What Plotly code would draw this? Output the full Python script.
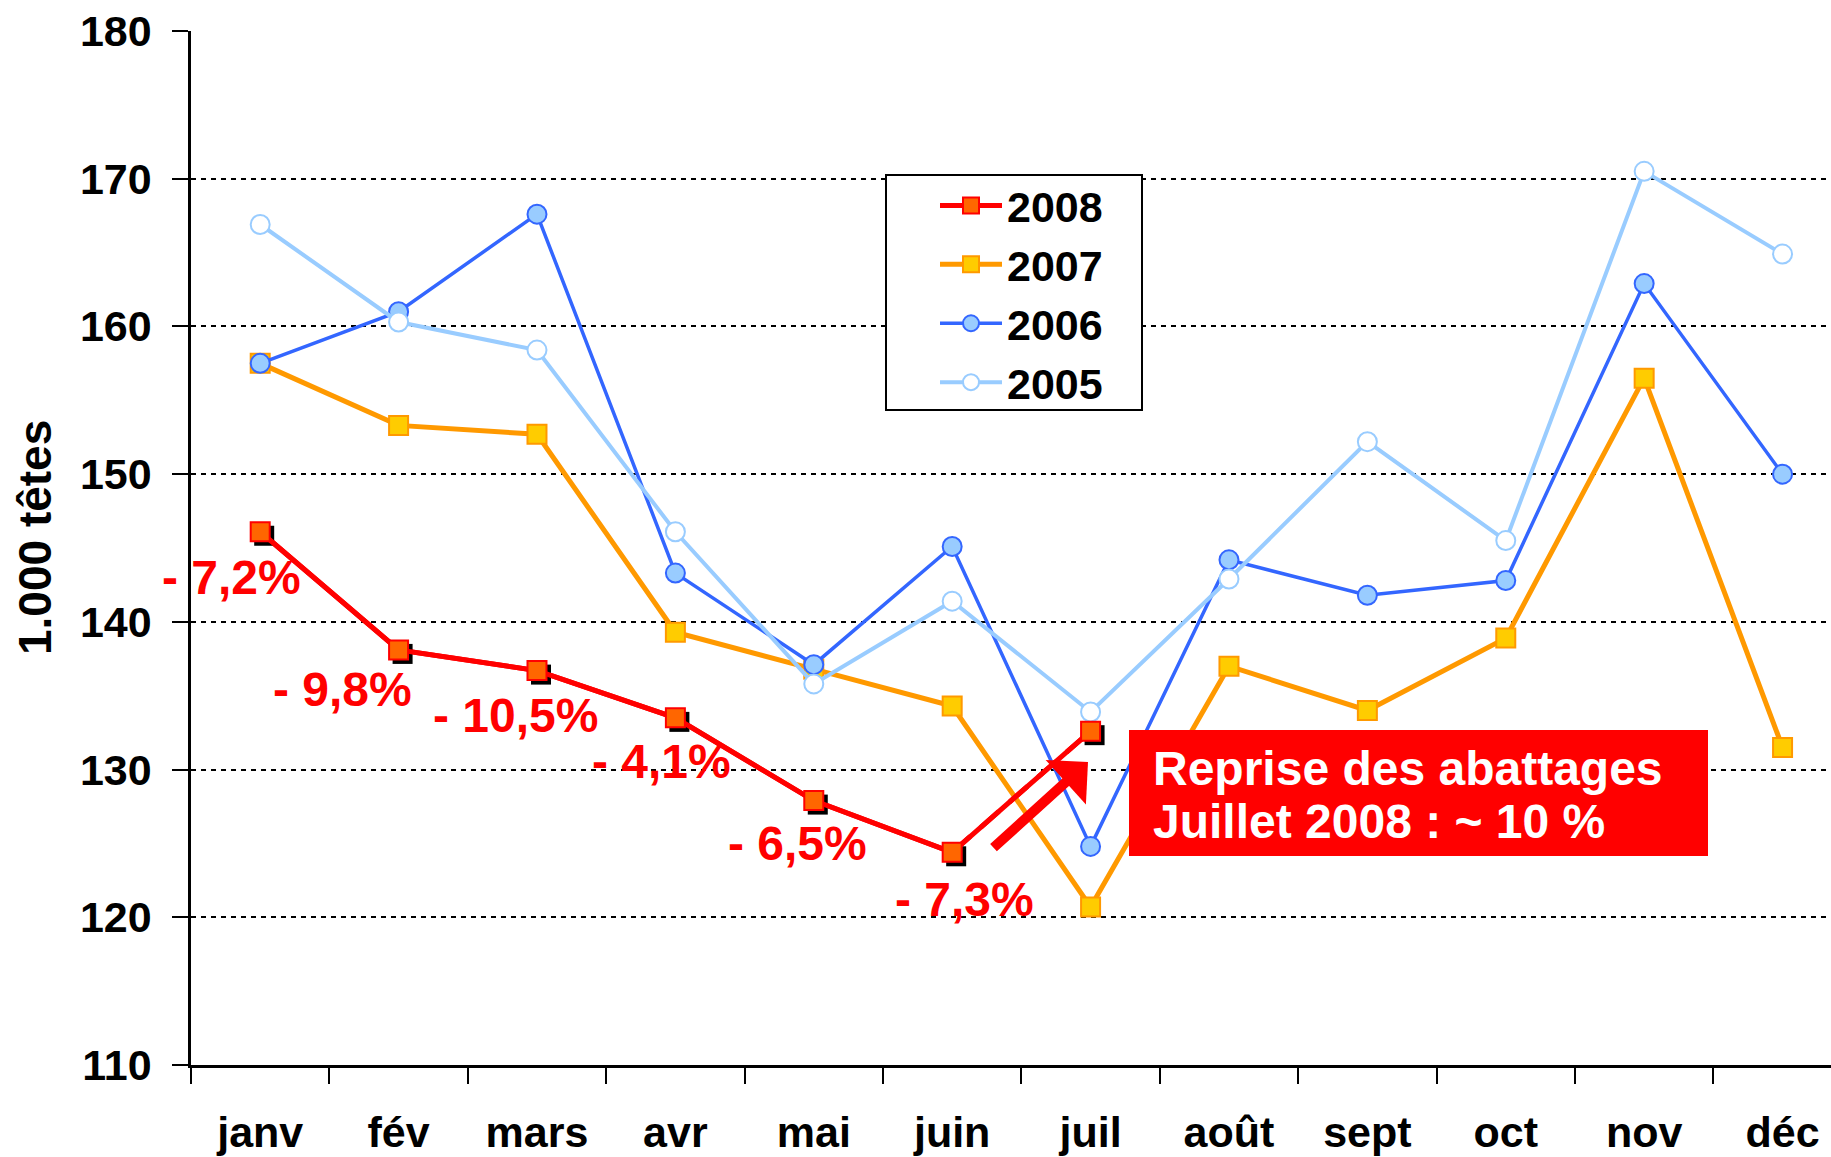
import plotly.graph_objects as go

# ---------------- data ----------------
months = ["janv", "fév", "mars", "avr", "mai", "juin", "juil", "août", "sept", "oct", "nov", "déc"]
v2008 = [146.1, 138.1, 136.7, 133.5, 127.9, 124.4, 132.6]
v2007 = [157.5, 153.3, 152.7, 139.3, 136.8, 134.3, 120.7, 137.0, 134.0, 138.9, 156.5, 131.5]
v2006 = [157.5, 161.0, 167.6, 143.3, 137.1, 145.1, 124.8, 144.2, 141.8, 142.8, 162.9, 150.0]
v2005 = [166.9, 160.3, 158.4, 146.1, 135.8, 141.4, 133.9, 142.9, 152.2, 145.5, 170.5, 164.9]
pct_labels = ["- 7,2%", "- 9,8%", "- 10,5%", "- 4,1%", "- 6,5%", "- 7,3%"]
box_lines = ["Reprise des abattages", "Juillet 2008 : ~ 10 %"]
y_title = "1.000 têtes"

# ---------------- layout constants ----------------
W, H = 1831, 1157
ML, MT, MB, MR = 191, 31, 92, 0
YMIN, YMAX = 110, 180
XMIN, XMAX = -0.5, 11.35
PW, PH = W - ML - MR, H - MT - MB
px_per_cat = PW / (XMAX - XMIN)
px_per_unit = PH / (YMAX - YMIN)

FONT = "Liberation Sans, Arial, sans-serif"
x_all = list(range(len(months)))

fig = go.Figure()

# 2007
fig.add_trace(go.Scatter(
    x=x_all, y=v2007, name="2007", mode="lines+markers", legendrank=2,
    line=dict(color="#FF9900", width=5),
    marker=dict(symbol="square", size=19, color="#FFCC00", line=dict(color="#FF9900", width=2)),
))
# 2006
fig.add_trace(go.Scatter(
    x=x_all, y=v2006, name="2006", mode="lines+markers", legendrank=3,
    line=dict(color="#3366FF", width=3.5),
    marker=dict(symbol="circle", size=19, color="#99CCFF", line=dict(color="#3366FF", width=2)),
))
# 2005
fig.add_trace(go.Scatter(
    x=x_all, y=v2005, name="2005", mode="lines+markers", legendrank=4,
    line=dict(color="#99CCFF", width=4),
    marker=dict(symbol="circle", size=19, color="#FFFFFF", line=dict(color="#99CCFF", width=2)),
))

# 2008: solid part Jan-Jun, dashed Jun-Jul
n_solid = 6
fig.add_trace(go.Scatter(
    x=x_all[n_solid - 1:len(v2008)], y=v2008[n_solid - 1:], mode="lines", showlegend=False,
    line=dict(color="#FF0000", width=5, dash="24px,14px"), hoverinfo="skip",
))
fig.add_trace(go.Scatter(
    x=x_all[:n_solid], y=v2008[:n_solid], mode="lines", showlegend=False,
    line=dict(color="#FF0000", width=5), hoverinfo="skip",
))
# marker shadow
sx = 4 / px_per_cat
sy = 4 / px_per_unit
fig.add_trace(go.Scatter(
    x=[x + sx for x in x_all[:len(v2008)]], y=[v - sy for v in v2008], mode="markers",
    showlegend=False, hoverinfo="skip",
    marker=dict(symbol="square", size=20, color="#000000"),
))
fig.add_trace(go.Scatter(
    x=x_all[:len(v2008)], y=v2008, name="2008", mode="lines+markers", legendrank=1,
    line=dict(color="#FF0000", width=5),
    marker=dict(symbol="square", size=19, color="#FF6600", line=dict(color="#FF0000", width=2)),
))


def to_data(px, py):
    return (px - ML) / px_per_cat + XMIN, YMAX - (py - MT) / px_per_unit


def to_paper(px, py):
    return (px - ML) / PW, (H - MB - py) / PH


annotations = []
# percentage labels (pixel centres in the reference)
pct_pos = [(231, 577), (342, 689), (515, 715), (661, 761), (797, 843), (964, 899)]
for txt, (px, py) in zip(pct_labels, pct_pos):
    xd, yd = to_data(px, py)
    annotations.append(dict(
        x=xd, y=yd, xref="x", yref="y", text=txt, showarrow=False,
        font=dict(family=FONT, size=48, color="#FF0000", weight="bold"),
        xanchor="center", yanchor="middle",
    ))

# arrow
hx, hy = to_data(1088, 762)
tx, ty = to_data(992, 849)
annotations.append(dict(
    x=hx, y=hy, ax=tx, ay=ty, xref="x", yref="y", axref="x", ayref="y",
    text="", showarrow=True, arrowhead=1, arrowsize=1.0, arrowwidth=10,
    arrowcolor="#FF0000", standoff=0, startstandoff=0,
))

# box text lines
for txt, py in zip(box_lines, [768, 821]):
    bx, by = to_data(1151, py)
    annotations.append(dict(
        x=bx, y=by, xref="x", yref="y", text=txt, showarrow=False,
        xanchor="left", yanchor="middle", align="left",
        font=dict(family=FONT, size=48, color="#FFFFFF", weight="bold"),
    ))

# y title
tx_p, ty_p = to_paper(35, 538)
annotations.append(dict(
    x=tx_p, y=ty_p, xref="paper", yref="paper",
    text=y_title, textangle=-90, showarrow=False, xanchor="center", yanchor="middle",
    font=dict(family=FONT, size=46, color="#000000", weight="bold"),
))

bx0, by0 = to_data(1129, 730)
bx1, by1 = to_data(1708, 856)
lx0, ly0 = to_paper(886, 175)
lx1, ly1 = to_paper(1142, 410)
shapes = [
    dict(type="rect", xref="x", yref="y", x0=bx0, x1=bx1, y0=by1, y1=by0,
         fillcolor="#FF0000", line=dict(width=0), layer="above"),
    dict(type="rect", xref="paper", yref="paper", x0=lx0, x1=lx1, y0=ly1, y1=ly0,
         fillcolor="#FFFFFF", line=dict(color="#000000", width=2), layer="above"),
]

leg_x, leg_y = to_paper(935, 171)
fig.update_layout(
    width=W, height=H,
    margin=dict(l=ML, r=MR, t=MT, b=MB, pad=0),
    paper_bgcolor="white", plot_bgcolor="white",
    font=dict(family=FONT, color="#000000"),
    showlegend=True,
    legend=dict(
        x=leg_x, y=leg_y, xanchor="left", yanchor="top",
        borderwidth=0, bgcolor="rgba(0,0,0,0)",
        font=dict(family=FONT, size=43, color="#000000", weight="bold"),
        itemwidth=62, tracegroupgap=0,
    ),
    annotations=annotations,
    shapes=shapes,
    xaxis=dict(
        range=[XMIN, XMAX], tickmode="array", tickvals=x_all, ticktext=months,
        ticks="", showgrid=False, zeroline=False,
        showline=True, linecolor="#000000", linewidth=2.5,
        tickfont=dict(family=FONT, size=43, color="#000000", weight="bold"),
        ticklabelstandoff=28,
        minor=dict(tick0=-0.5, dtick=1, ticks="outside", ticklen=16, tickcolor="#000000",
                   tickwidth=2, showgrid=False),
    ),
    yaxis=dict(
        range=[YMIN, YMAX], tick0=110, dtick=10,
        ticks="outside", ticklen=16, tickwidth=2, tickcolor="#000000",
        showgrid=True, gridcolor="#000000", gridwidth=2, griddash="5px,5px",
        zeroline=False, showline=True, linecolor="#000000", linewidth=2.5,
        tickfont=dict(family=FONT, size=43, color="#000000", weight="bold"),
        ticklabelstandoff=12,
    ),
)

fig.write_html("out.html", config={"displayModeBar": False},
               post_script="document.body.style.margin='0';")
